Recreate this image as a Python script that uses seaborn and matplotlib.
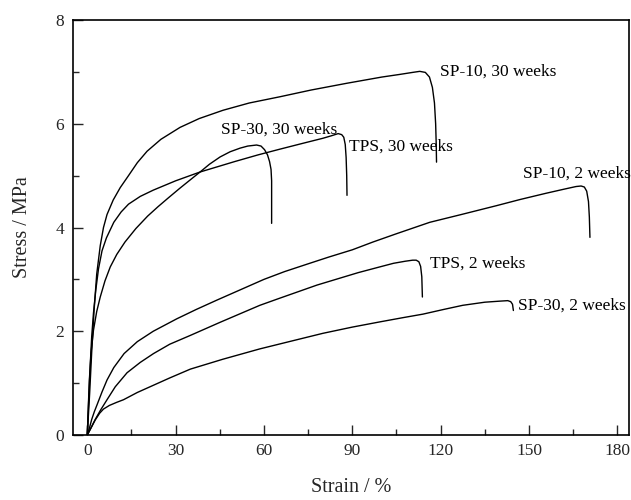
import numpy as np
import pandas as pd
import matplotlib
matplotlib.use('Agg')
import matplotlib.pyplot as plt
import seaborn as sns
from matplotlib.ticker import MultipleLocator

# stress-strain curves (strain %, stress MPa)
sp10_30w_x = [0, 0.8, 1.5, 2.3, 3.2, 4.4, 5.5, 6.7, 8.8, 11.2, 14, 17, 20.3, 25, 31.5, 38, 46.1, 55,
              65.4, 76, 88.1, 100, 106, 110.5, 112.9, 114.8, 116.2, 117.2, 117.9, 118.3, 118.5, 118.6]
sp10_30w_y = [0, 0.8, 1.6, 2.4, 3.1, 3.65, 4.0, 4.25, 4.53, 4.77, 5.0, 5.25, 5.47, 5.7, 5.93, 6.1, 6.26, 6.4,
              6.52, 6.65, 6.78, 6.9, 6.95, 6.99, 7.01, 6.99, 6.9, 6.7, 6.4, 6.0, 5.6, 5.26]

tps_30w_x = [0, 0.5, 1.0, 1.5, 2.1, 2.9, 3.8, 5, 6.5, 9, 11.5, 14, 18, 22.4, 30, 38.3, 50, 58, 65.4,
             73, 80, 83, 85.2, 86.4, 87.1, 87.6, 87.9, 88.1, 88.2]
tps_30w_y = [0, 0.7, 1.35, 1.9, 2.35, 2.8, 3.2, 3.55, 3.8, 4.1, 4.3, 4.45, 4.6, 4.72, 4.9, 5.07, 5.27, 5.4, 5.51,
             5.62, 5.72, 5.77, 5.81, 5.79, 5.74, 5.6, 5.35, 5.0, 4.62]

sp30_30w_x = [0, 0.35, 0.7, 1.3, 2.1, 3.2, 4.4, 6, 7.8, 10, 12.8, 16.5, 20.5, 24, 27.5, 31.5, 35, 38.3,
              41.5, 45.1, 48.5, 51.9, 54.5, 57.5, 59, 60.2, 61.2, 61.9, 62.4, 62.6, 62.6]
sp30_30w_y = [0, 0.55, 1.06, 1.6, 2.02, 2.38, 2.66, 2.97, 3.24, 3.48, 3.72, 3.98, 4.22, 4.4, 4.57, 4.76, 4.92, 5.07,
              5.22, 5.36, 5.46, 5.53, 5.57, 5.59, 5.57, 5.5, 5.4, 5.27, 5.12, 4.9, 4.08]

sp10_2w_x = [0, 0.8, 1.5, 2.4, 3.3, 5, 6.7, 9, 12.5, 17, 22.4, 30.4, 37, 44, 52, 60, 67, 75, 82, 90, 97,
             105, 116.3, 127, 138.9, 147, 155.8, 162, 166, 167.7, 168.8, 169.6, 170.2, 170.5, 170.7]
sp10_2w_y = [0, 0.15, 0.3, 0.45, 0.58, 0.83, 1.06, 1.3, 1.57, 1.8, 2.0, 2.24, 2.42, 2.6, 2.8, 3.0, 3.15, 3.3, 3.43, 3.57, 3.72,
             3.88, 4.1, 4.25, 4.42, 4.54, 4.66, 4.74, 4.79, 4.80, 4.78, 4.7, 4.5, 4.2, 3.81]

tps_2w_x = [0, 1.2, 2.7, 4.5, 6.7, 9.5, 13.5, 18, 22.5, 28, 35, 45, 52, 58.6, 65, 72, 78, 85, 92, 99.3,
            104, 108, 110.5, 111.7, 112.6, 113.2, 113.6, 113.8]
tps_2w_y = [0, 0.13, 0.3, 0.48, 0.68, 0.93, 1.2, 1.4, 1.57, 1.75, 1.92, 2.17, 2.34, 2.5, 2.63, 2.77, 2.89, 3.01, 3.13, 3.24,
            3.31, 3.35, 3.37, 3.37, 3.34, 3.25, 3.05, 2.66]

sp30_2w_x = [0, 1.2, 2.7, 4.2, 5.5, 7.5, 10, 12.3, 17, 22.5, 28, 35, 46, 58.6, 70, 80, 90, 99.3, 107,
             114, 121, 127.5, 135, 140, 142.8, 143.8, 144.4, 144.7]
sp30_2w_y = [0, 0.13, 0.29, 0.42, 0.5, 0.57, 0.63, 0.68, 0.82, 0.96, 1.1, 1.27, 1.46, 1.66, 1.82, 1.96, 2.08, 2.18, 2.26,
             2.33, 2.42, 2.5, 2.56, 2.58, 2.59, 2.57, 2.52, 2.40]

curves = [
    ('SP-10, 30 weeks', sp10_30w_x, sp10_30w_y),
    ('TPS, 30 weeks', tps_30w_x, tps_30w_y),
    ('SP-30, 30 weeks', sp30_30w_x, sp30_30w_y),
    ('SP-10, 2 weeks', sp10_2w_x, sp10_2w_y),
    ('TPS, 2 weeks', tps_2w_x, tps_2w_y),
    ('SP-30, 2 weeks', sp30_2w_x, sp30_2w_y),
]

# label anchor points (left edge, vertical centre)
label_names = ['SP-10, 30 weeks', 'SP-30, 30 weeks', 'TPS, 30 weeks',
               'SP-10, 2 weeks', 'TPS, 2 weeks', 'SP-30, 2 weeks']
label_x = [119.7, 45.4, 88.9, 148.0, 116.3, 146.2]
label_y = [7.0, 5.88, 5.55, 5.04, 3.31, 2.49]

sns.set_style('ticks')
plt.rcParams['font.family'] = ['Liberation Serif', 'DejaVu Serif']

fig = plt.figure(figsize=(6.31, 5.0), dpi=100)
ax = fig.add_axes([0.115, 0.13, 0.882, 0.83])

for name, xs, ys in curves:
    df = pd.DataFrame({'strain': xs, 'stress': ys})
    sns.lineplot(data=df, x='strain', y='stress', sort=False, estimator=None,
                 color='black', linewidth=1.0, ax=ax)

for name, tx, ty in zip(label_names, label_x, label_y):
    ax.text(tx, ty, name, ha='left', va='center', fontsize=12.5, color='black')

ax.set_xlim(-5, 184)
ax.set_ylim(0, 8)
ax.xaxis.set_major_locator(MultipleLocator(30))
ax.xaxis.set_minor_locator(MultipleLocator(15))
ax.yaxis.set_major_locator(MultipleLocator(2))
ax.yaxis.set_minor_locator(MultipleLocator(1))
ax.tick_params(which='major', direction='in', length=7, width=1.0, labelsize=12.5, pad=6,
               top=False, right=False)
ax.tick_params(which='minor', direction='in', length=4, width=1.0, top=False, right=False)

for sp in ax.spines.values():
    sp.set_linewidth(1.2)
    sp.set_color('black')

ax.set_xlabel('Strain / %', fontsize=14.5)
ax.set_ylabel('Stress / MPa', fontsize=14.5)
ax.xaxis.set_label_coords(0.5, -0.104)
ax.yaxis.set_label_coords(-0.073, 0.5)

fig.savefig('out.png', dpi=100, facecolor='white')
